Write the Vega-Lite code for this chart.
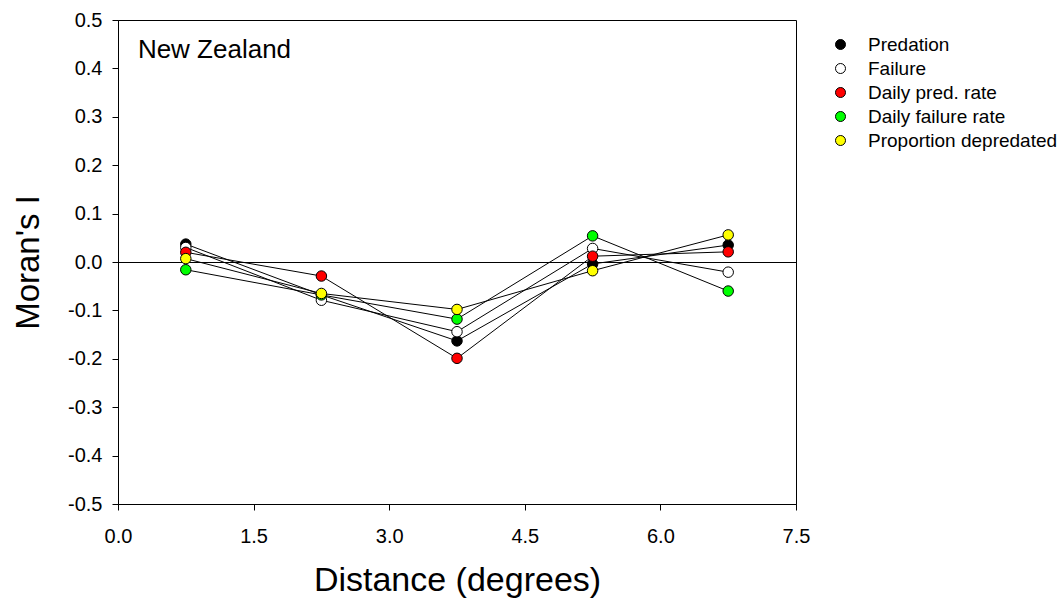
{
  "$schema": "https://vega.github.io/schema/vega-lite/v6.json",
  "width": 678,
  "height": 484,
  "autosize": {"type": "none"},
  "padding": {"left": 118, "top": 20, "right": 266, "bottom": 101},
  "background": "white",
  "config": {
    "font": "Liberation Sans",
    "view": {"stroke": "black", "strokeWidth": 1}
  },
  "data": {
    "values": [
      {"d": 0.75, "s": "Predation", "v": 0.037},
      {"d": 2.25, "s": "Predation", "v": -0.068},
      {"d": 3.75, "s": "Predation", "v": -0.163},
      {"d": 5.25, "s": "Predation", "v": -0.004},
      {"d": 6.75, "s": "Predation", "v": 0.035},
      {"d": 0.75, "s": "Failure", "v": 0.030},
      {"d": 2.25, "s": "Failure", "v": -0.079},
      {"d": 3.75, "s": "Failure", "v": -0.144},
      {"d": 5.25, "s": "Failure", "v": 0.028},
      {"d": 6.75, "s": "Failure", "v": -0.021},
      {"d": 0.75, "s": "Daily pred. rate", "v": 0.020},
      {"d": 2.25, "s": "Daily pred. rate", "v": -0.029},
      {"d": 3.75, "s": "Daily pred. rate", "v": -0.199},
      {"d": 5.25, "s": "Daily pred. rate", "v": 0.012},
      {"d": 6.75, "s": "Daily pred. rate", "v": 0.021},
      {"d": 0.75, "s": "Daily failure rate", "v": -0.016},
      {"d": 2.25, "s": "Daily failure rate", "v": -0.068},
      {"d": 3.75, "s": "Daily failure rate", "v": -0.118},
      {"d": 5.25, "s": "Daily failure rate", "v": 0.054},
      {"d": 6.75, "s": "Daily failure rate", "v": -0.060},
      {"d": 0.75, "s": "Proportion depredated", "v": 0.007},
      {"d": 2.25, "s": "Proportion depredated", "v": -0.065},
      {"d": 3.75, "s": "Proportion depredated", "v": -0.098},
      {"d": 5.25, "s": "Proportion depredated", "v": -0.018},
      {"d": 6.75, "s": "Proportion depredated", "v": 0.056}
    ]
  },
  "encoding": {
    "x": {
      "field": "d", "type": "quantitative",
      "scale": {"domain": [0, 7.5], "nice": false, "zero": false},
      "axis": {
        "values": [0, 1.5, 3, 4.5, 6, 7.5],
        "labelExpr": "replace(format(datum.value, '.1f'), '\u2212', '-')",
        "title": "Distance (degrees)",
        "titleFont": "Liberation Sans", "titleFontSize": 34, "titleFontWeight": "normal", "titleColor": "black",
        "titlePadding": 17,
        "labelFont": "Liberation Sans", "labelFontSize": 20, "labelColor": "black", "labelPadding": 16,
        "grid": false, "domainColor": "black", "tickColor": "black", "tickSize": 6,
        "labelFlush": false
      }
    },
    "y": {
      "field": "v", "type": "quantitative",
      "scale": {"domain": [-0.5, 0.5], "nice": false, "zero": false},
      "axis": {
        "values": [-0.5, -0.4, -0.3, -0.2, -0.1, 0, 0.1, 0.2, 0.3, 0.4, 0.5],
        "labelExpr": "replace(format(datum.value, '.1f'), '\u2212', '-')",
        "title": "Moran's I",
        "titleFont": "Liberation Sans", "titleFontSize": 33, "titleFontWeight": "normal", "titleColor": "black",
        "titlePadding": 22,
        "labelFont": "Liberation Sans", "labelFontSize": 20, "labelColor": "black", "labelPadding": 10,
        "grid": false, "domainColor": "black", "tickColor": "black", "tickSize": 6,
        "labelFlush": false
      }
    }
  },
  "layer": [
    {
      "data": {"values": [{"z": 0}]},
      "mark": {"type": "rule", "color": "black", "strokeWidth": 1, "yOffset": 0.5},
      "encoding": {"y": {"field": "z", "type": "quantitative"}, "x": null}
    },
    {
      "mark": {"type": "line", "color": "black", "strokeWidth": 1},
      "encoding": {
        "detail": {"field": "s", "type": "nominal"},
        "order": {"field": "d", "type": "quantitative"}
      }
    },
    {
      "mark": {"type": "point", "filled": true, "shape": "circle", "size": 110, "stroke": "black", "strokeWidth": 1, "opacity": 1},
      "encoding": {
        "fill": {
          "field": "s", "type": "nominal",
          "scale": {
            "domain": ["Predation", "Failure", "Daily pred. rate", "Daily failure rate", "Proportion depredated"],
            "range": ["black", "white", "#ff0000", "#00ff00", "#ffff00"]
          },
          "legend": {
            "title": null,
            "orient": "none",
            "legendX": 713,
            "legendY": 15,
            "symbolType": "circle",
            "symbolSize": 100,
            "symbolStrokeColor": "black",
            "symbolStrokeWidth": 1,
            "symbolOpacity": 1,
            "labelFont": "Liberation Sans",
            "labelFontSize": 19,
            "labelColor": "black",
            "labelOffset": 18,
            "labelLimit": 400,
            "rowPadding": 4
          }
        }
      }
    },
    {
      "data": {"values": [{"t": "New Zealand", "x": 0.22, "y": 0.438}]},
      "mark": {"type": "text", "align": "left", "baseline": "middle", "fontSize": 26, "font": "Liberation Sans", "color": "black"},
      "encoding": {
        "x": {"field": "x", "type": "quantitative"},
        "y": {"field": "y", "type": "quantitative"},
        "text": {"field": "t"}
      }
    }
  ]
}
